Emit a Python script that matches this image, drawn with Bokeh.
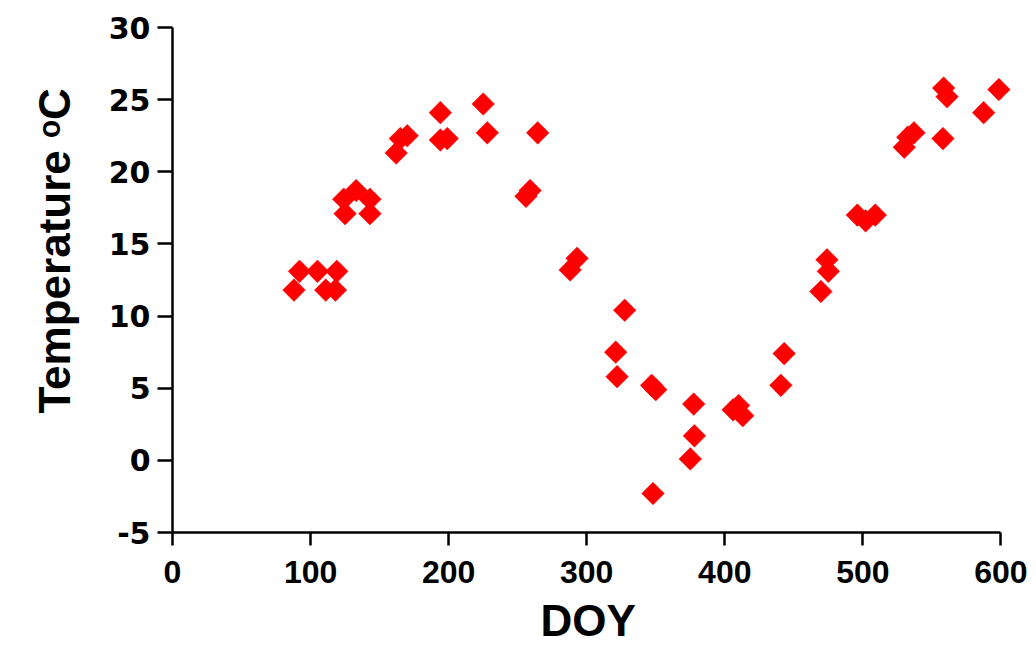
import math
from bokeh.plotting import figure
from bokeh.models import ColumnDataSource, FixedTicker, Range1d, Title
from bokeh.embed import file_html
from bokeh.resources import INLINE

# Day of year and water temperature observations
doy = [88, 92, 105, 111, 118, 119,
       124, 125, 133, 143, 143,
       162, 165, 170, 194, 194, 199, 225, 228, 264.5,
       256, 259, 288, 293, 327.5,
       321, 322, 347, 350, 348, 375, 378, 377.5, 406, 410, 413,
       440.6, 443, 469.6, 474, 475, 496, 502, 509, 530, 532.5, 537,
       558, 558.5, 561, 587.5, 598.5]
temp = [11.8, 13.1, 13.1, 11.8, 11.8, 13.1,
        18.1, 17.1, 18.7, 18.1, 17.1,
        21.3, 22.3, 22.5, 24.1, 22.2, 22.3, 24.7, 22.7, 22.7,
        18.3, 18.7, 13.2, 14.0, 10.4,
        7.5, 5.8, 5.2, 4.9, -2.3, 0.1, 1.7, 3.9, 3.5, 3.8, 3.1,
        5.2, 7.4, 11.7, 13.9, 13.1, 17.0, 16.6, 17.0, 21.7, 22.4, 22.7,
        22.3, 25.8, 25.2, 24.1, 25.7]

x_ticks = [0, 100, 200, 300, 400, 500, 600]
y_ticks = [-5, 0, 5, 10, 15, 20, 25, 30]
y_tick_labels = {v: str(v) for v in y_ticks}   # plain hyphen for "-5"

W, H = 1036, 654
LEFT, TOP, BOTTOM, RIGHT = 172, 27, 122, 19
X_MAX = 612          # a little room so the last marker is not clipped

src = ColumnDataSource(data=dict(doy=doy, temp=temp))

p = figure(width=W, height=H, output_backend="svg", toolbar_location=None,
           x_range=Range1d(0, X_MAX), y_range=Range1d(-5, 30),
           min_border_left=LEFT, min_border_right=RIGHT,
           min_border_top=TOP, min_border_bottom=BOTTOM)

p.scatter(x="doy", y="temp", source=src, marker="square", size=16,
          angle=math.pi / 4, fill_color="#ff0000", line_color="#ff0000",
          line_width=0.5)

p.grid.visible = False
p.outline_line_color = None
p.background_fill_color = "white"
p.border_fill_color = "white"

for ax in (p.xaxis[0], p.yaxis[0]):
    ax.axis_line_color = "black"
    ax.axis_line_width = 2.5
    ax.major_tick_line_color = "black"
    ax.major_tick_line_width = 2.5
    ax.minor_tick_line_color = None
    ax.major_tick_in = 0
    ax.major_label_text_font_style = "bold"
    ax.major_label_text_color = "black"

p.xaxis.ticker = FixedTicker(ticks=x_ticks)
p.xaxis.bounds = (0, 600)
p.xaxis.major_tick_out = 13
p.xaxis.major_label_standoff = 15
p.xaxis.major_label_text_font = "Liberation Sans"
p.xaxis.major_label_text_font_size = "32px"

p.yaxis.ticker = FixedTicker(ticks=y_ticks)
p.yaxis.major_label_overrides = y_tick_labels
p.yaxis.major_tick_out = 15
p.yaxis.major_label_standoff = 7
p.yaxis.major_label_text_font = "DejaVu Sans"
p.yaxis.major_label_text_font_size = "30px"

TITLE_FONT = "Liberation Sans"

# axis titles, set in the side panels so they sit outside the frame
p.add_layout(Title(text="DOY", align="left", offset=368, standoff=17,
                   text_line_height=0.9,
                   text_font=TITLE_FONT, text_font_style="bold",
                   text_font_size="44px", text_color="black"), "below")
p.add_layout(Title(text="Temperature ᵒC", align="left", offset=119, standoff=53,
                   text_line_height=0.9,
                   text_font=TITLE_FONT, text_font_style="bold",
                   text_font_size="44px", text_color="black"), "left")

open("out.html", "w").write(file_html(p, INLINE))
